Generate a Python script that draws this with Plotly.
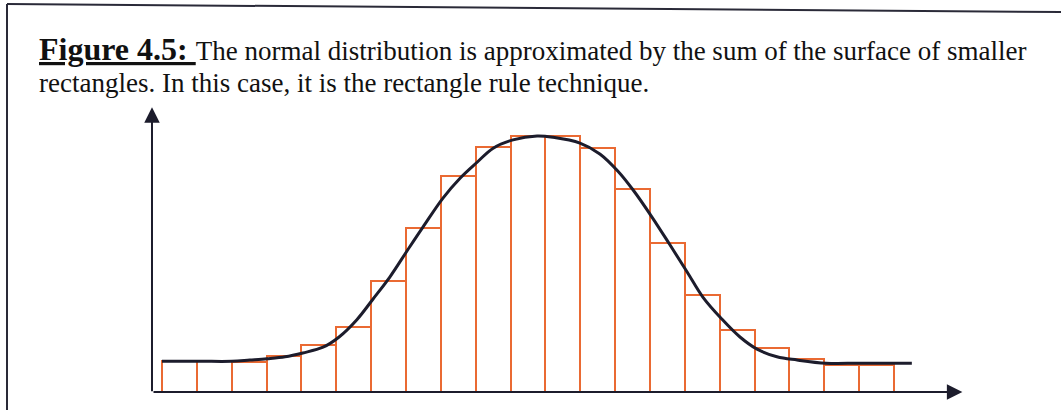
import plotly.graph_objects as go

# Rectangle-rule approximation of a bell curve: 21 unit-width rectangles
# under a smooth normal-shaped curve (heights in density units).
bar_heights = [0.048, 0.048, 0.047, 0.056, 0.073, 0.102, 0.173, 0.256, 0.338, 0.383, 0.400,
               0.400, 0.381, 0.317, 0.233, 0.152, 0.097, 0.069, 0.052, 0.042, 0.042]

curve_x = [0.00, 1.09, 2.01, 2.52, 3.01, 3.53, 4.04, 4.62, 5.08, 5.59, 6.05, 6.54, 7.06,
           7.49, 8.06, 8.55, 9.04, 9.50, 10.07, 10.76, 11.22, 11.99, 12.56, 13.08, 13.51,
           14.06, 14.57, 15.06, 15.52, 16.06, 16.58, 17.07, 17.64, 18.22, 19.05, 20.02, 21.51]
curve_y = [0.048, 0.048, 0.048, 0.050, 0.052, 0.055, 0.061, 0.070, 0.086, 0.113, 0.145,
           0.180, 0.223, 0.258, 0.303, 0.334, 0.359, 0.381, 0.394, 0.400, 0.398, 0.389,
           0.372, 0.345, 0.316, 0.273, 0.230, 0.188, 0.148, 0.114, 0.086, 0.067, 0.055,
           0.050, 0.045, 0.045, 0.045]

caption_line1 = ("<b><u><span style='font-size:32px'>Figure 4.5: </span></u></b>"
                 "The normal distribution is approximated "
                 "by the sum of the surface of smaller")
caption_line2 = "rectangles. In this case, it is the rectangle rule technique."

ORANGE = "#ea6a33"
INK = "#1c1c2c"

bar_centers = [i + 0.5 for i in range(len(bar_heights))]

fig = go.Figure()
fig.add_trace(go.Bar(
    x=bar_centers, y=bar_heights, width=1.0,
    marker=dict(color="rgba(255,255,255,0)", line=dict(color=ORANGE, width=2)),
    hoverinfo="skip",
))
fig.add_trace(go.Scatter(
    x=curve_x, y=curve_y, mode="lines",
    line=dict(color=INK, width=3, shape="spline", smoothing=1.0),
    hoverinfo="skip",
))

X_RANGE = [-4.647, 25.789]
Y_RANGE = [-0.0359, 0.6125]
Y_AXIS_X = -0.287

# Coordinate axes with arrowheads
fig.add_annotation(x=22.96, y=0.0, ax=Y_AXIS_X, ay=0.0, xref="x", yref="y",
                   axref="x", ayref="y", text="", showarrow=True,
                   arrowhead=2, arrowsize=1.55, arrowwidth=2, arrowcolor=INK)
fig.add_annotation(x=Y_AXIS_X, y=0.445, ax=Y_AXIS_X, ay=-0.001, xref="x", yref="y",
                   axref="x", ayref="y", text="", showarrow=True,
                   arrowhead=2, arrowsize=1.55, arrowwidth=2, arrowcolor=INK)

# Caption
fig.add_annotation(x=37 / 1061, y=1 - 49 / 415, xref="paper", yref="paper",
                   xanchor="left", yanchor="middle", showarrow=False,
                   text=caption_line1,
                   font=dict(family="Liberation Serif", size=27, color="#111111"))
fig.add_annotation(x=37 / 1061, y=1 - 83 / 415, xref="paper", yref="paper",
                   xanchor="left", yanchor="middle", showarrow=False,
                   text=caption_line2,
                   font=dict(family="Liberation Serif", size=27, color="#111111"))

# Box frame (top and left edges)
fig.add_shape(type="line", xref="paper", yref="paper", x0=7 / 1061, y0=1 - 4 / 415,
              x1=1.0, y1=1 - 12 / 415, line=dict(color="#2a2a38", width=2))
fig.add_shape(type="line", xref="paper", yref="paper", x0=7 / 1061, y0=1 - 4 / 415,
              x1=7 / 1061, y1=1 - 410 / 415, line=dict(color="#2a2a38", width=2))

fig.update_layout(
    width=1061, height=415,
    margin=dict(l=0, r=0, t=0, b=0),
    paper_bgcolor="white", plot_bgcolor="white",
    showlegend=False, bargap=0,
    xaxis=dict(range=X_RANGE, visible=False, fixedrange=True),
    yaxis=dict(range=Y_RANGE, visible=False, fixedrange=True),
)

fig.write_html("out.html")
